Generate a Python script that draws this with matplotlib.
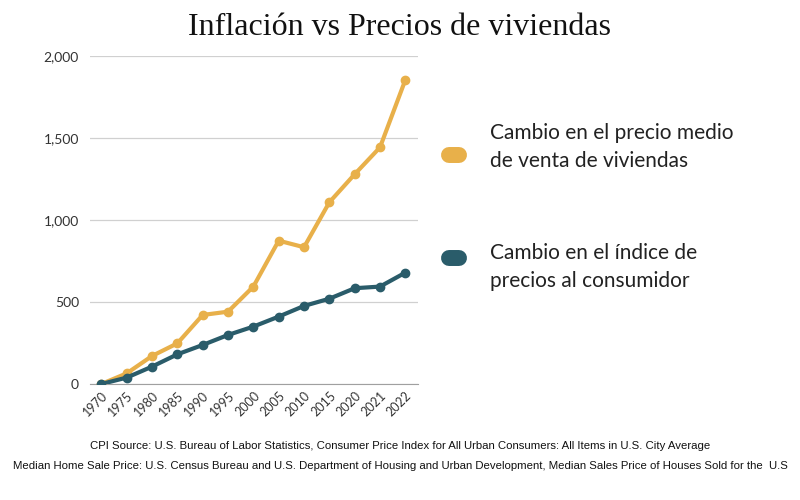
import matplotlib
matplotlib.use("Agg")
import matplotlib.pyplot as plt
from matplotlib.lines import Line2D

years = ['1970', '1975', '1980', '1985', '1990', '1995', '2000',
         '2005', '2010', '2015', '2020', '2021', '2022']
vivienda = [0, 65, 171, 248, 421, 441, 594, 874, 834, 1108, 1279, 1443, 1854]
ipc = [0, 39, 106, 181, 238, 299, 350, 411, 476, 520, 584, 594, 679]

naranja = '#E8B04A'
azul = '#2A5C6A'

fig = plt.figure(figsize=(8, 5), dpi=100)
ax = fig.add_axes([0.1125, 0.232, 0.41, 0.656])

x = range(len(years))
ax.plot(x, vivienda, color=naranja, lw=3, marker='o', ms=6, zorder=3)
ax.plot(x, ipc, color=azul, lw=3, marker='o', ms=6, zorder=4)

ax.set_xlim(-0.45, 12.5)
ax.set_ylim(0, 2000)
ax.set_yticks([0, 500, 1000, 1500, 2000])
ax.set_yticklabels(['0', '500', '1,000', '1,500', '2,000'], family='Lato', fontsize=10)
ax.set_xticks(list(x))
ax.set_xticklabels(years, rotation=45, ha='right', rotation_mode='anchor',
                   family='Lato', fontsize=9)
ax.grid(axis='y', color='#d0d0d0', lw=0.9)
ax.set_axisbelow(True)
for s in ['top', 'right', 'left']:
    ax.spines[s].set_visible(False)
ax.spines['bottom'].set_color('#a0a0a0')
ax.tick_params(length=0, colors='#333333')
ax.tick_params(axis='x', pad=4)
ax.tick_params(axis='y', pad=8)

fig.text(0.5, 0.945, 'Inflación vs Precios de viviendas', ha='center', va='center',
         family='Liberation Serif', fontsize=23, color='#111111')

# leyenda
for yy, col in [(0.69, naranja), (0.484, azul)]:
    fig.add_artist(Line2D([0.561, 0.574], [yy, yy], color=col, lw=11.5,
                          solid_capstyle='round', transform=fig.transFigure))
fig.text(0.612, 0.706, 'Cambio en el precio medio\nde venta de viviendas', va='center',
         family='Lato', fontsize=15, color='#222222', linespacing=1.55)
fig.text(0.612, 0.466, 'Cambio en el índice de\nprecios al consumidor', va='center',
         family='Lato', fontsize=15, color='#222222', linespacing=1.55)

fig.text(0.5, 0.108, 'CPI Source: U.S. Bureau of Labor Statistics, Consumer Price Index for All Urban Consumers: All Items in U.S. City Average',
         ha='center', va='center', family='Liberation Sans', fontsize=8.2, color='#111111')
fig.text(0.5, 0.068, 'Median Home Sale Price: U.S. Census Bureau and U.S. Department of Housing and Urban Development, Median Sales Price of Houses Sold for the  U.S',
         ha='center', va='center', family='Liberation Sans', fontsize=8.2, color='#111111')

fig.savefig('out.png', dpi=100)
